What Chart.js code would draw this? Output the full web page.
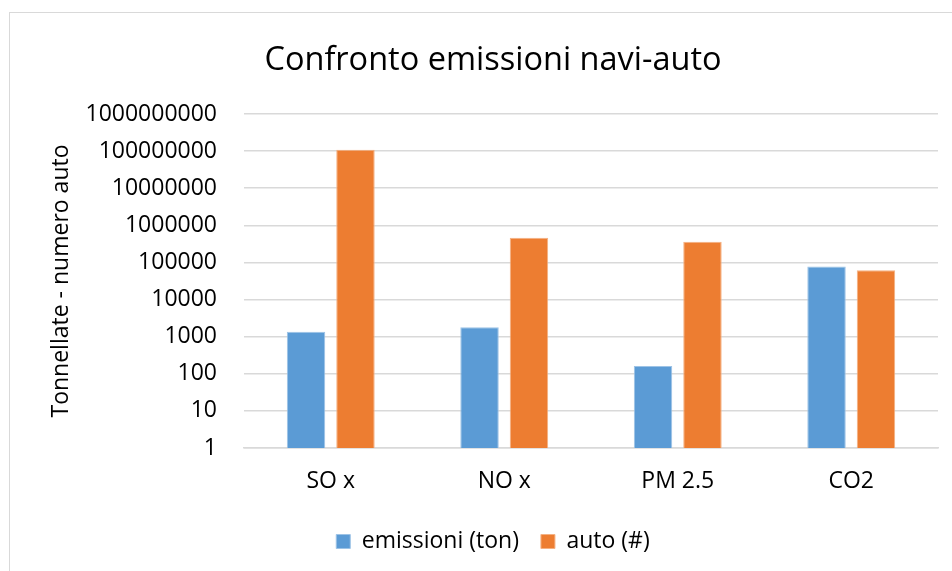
<!DOCTYPE html>
<html>
<head>
<meta charset="utf-8">
<script src="https://cdn.jsdelivr.net/npm/chart.js@4/dist/chart.umd.min.js"></script>
<style>
  html, body { margin: 0; padding: 0; background: #fff; }
  #wrap { position: relative; width: 952px; height: 571px; overflow: hidden; }
  #frame { position: absolute; left: 9px; top: 12px; width: 1000px; height: 600px; border: 1px solid #d9d9d9; box-sizing: border-box; }
  canvas { position: absolute; left: 0; top: 0; }
</style>
</head>
<body>
<div id="wrap">
  <div id="frame"></div>
  <canvas id="chart" width="952" height="571"></canvas>
</div>
<script>
// dati
const categorie = ['SO x', 'NO x', 'PM 2.5', 'CO2'];
const emissioni = [1350, 1800, 162, 78000];
const auto = [108000000, 460000, 360000, 62000];
const yTicks = [1, 10, 100, 1000, 10000, 100000, 1000000, 10000000, 100000000, 1000000000];

const FONT = "'Open Sans', 'Noto Sans', sans-serif";
const textColor = '#000000';
const gridColor = '#d9d9d9';

const ctx = document.getElementById('chart').getContext('2d');
new Chart(ctx, {
  type: 'bar',
  data: {
    labels: categorie,
    datasets: [
      {
        label: 'emissioni (ton)',
        data: emissioni,
        backgroundColor: '#5B9BD5',
        borderColor: '#9dc3e6',
        borderWidth: 1
      },
      {
        label: 'auto (#)',
        data: auto,
        backgroundColor: '#ED7D31',
        borderColor: '#f4b183',
        borderWidth: 1
      }
    ]
  },
  options: {
    responsive: false,
    animation: false,
    devicePixelRatio: 1,
    layout: { padding: { left: 48, right: 14, top: 0, bottom: 8 } },
    datasets: {
      bar: { categoryPercentage: 0.57, barPercentage: 0.778 }
    },
    plugins: {
      title: {
        display: true,
        text: 'Confronto emissioni navi-auto',
        color: textColor,
        font: { family: FONT, size: 32.5, weight: 'normal' },
        padding: { top: 41, bottom: 34 }
      },
      legend: {
        position: 'bottom',
        labels: {
          color: textColor,
          boxWidth: 14,
          boxHeight: 14,
          padding: 22,
          font: { family: FONT, size: 23 }
        }
      },
      tooltip: { enabled: false }
    },
    scales: {
      x: {
        grid: { display: false, drawTicks: false },
        border: { color: gridColor, width: 1.5 },
        ticks: { color: textColor, padding: 20, font: { family: FONT, size: 23 } },
        afterFit: (scale) => { scale.height = 60; }
      },
      y: {
        type: 'logarithmic',
        min: 1,
        max: 1000000000,
        grid: { color: gridColor, lineWidth: 1.5, drawTicks: false },
        border: { display: false },
        ticks: {
          color: textColor,
          padding: 27,
          font: { family: FONT, size: 23 },
          callback: (v) => String(v)
        },
        afterBuildTicks: (scale) => { scale.ticks = yTicks.map(v => ({ value: v })); },
        afterFit: (scale) => { scale.width = 196; },
        title: {
          display: true,
          text: 'Tonnellate - numero auto',
          color: textColor,
          font: { family: FONT, size: 23 },
          padding: 0
        }
      }
    }
  }
});
</script>
</body>
</html>
